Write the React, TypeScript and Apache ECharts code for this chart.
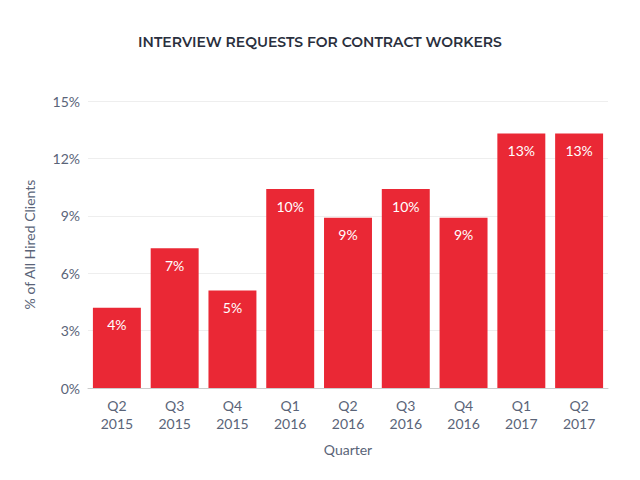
import React from 'react';
import * as echarts from 'echarts';

const quarters = ['Q2\n2015', 'Q3\n2015', 'Q4\n2015', 'Q1\n2016', 'Q2\n2016', 'Q3\n2016', 'Q4\n2016', 'Q1\n2017', 'Q2\n2017'];
const shares = [4.2, 7.3, 5.1, 10.4, 8.9, 10.4, 8.9, 13.3, 13.3];
const labels = ['4%', '7%', '5%', '10%', '9%', '10%', '9%', '13%', '13%'];

export default function App() {
  const chartRef = React.useRef<HTMLDivElement>(null);

  React.useEffect(() => {
    if (!chartRef.current) return;
    const chart = echarts.init(chartRef.current, null, { renderer: 'svg' });
    const grey = '#5a6478';
    chart.setOption({
      animation: false,
      title: {
        text: 'INTERVIEW REQUESTS FOR CONTRACT WORKERS',
        left: 'center',
        top: 22,
        textStyle: { fontFamily: 'Montserrat, Lato, sans-serif', fontSize: 14, fontWeight: 600, color: '#2a2f3d' }
      },
      grid: { left: 80, right: 24, top: 93, bottom: 84 },
      xAxis: {
        type: 'category',
        data: quarters,
        name: 'Quarter',
        nameLocation: 'middle',
        nameGap: 54,
        nameTextStyle: { color: grey, fontSize: 14, fontFamily: 'Lato' },
        axisTick: { show: false },
        axisLine: { lineStyle: { color: '#cccccc' } },
        axisLabel: { color: grey, fontSize: 14, fontFamily: 'Lato', lineHeight: 18, margin: 8 }
      },
      yAxis: {
        type: 'value',
        min: 0,
        max: 15,
        interval: 3,
        name: '% of All Hired Clients',
        nameLocation: 'middle',
        nameGap: 52,
        nameTextStyle: { color: grey, fontSize: 14, fontFamily: 'Lato' },
        axisLabel: { formatter: '{value}%', color: grey, fontSize: 14, fontFamily: 'Lato' },
        splitLine: { lineStyle: { color: '#eeeeee' } }
      },
      series: [{
        type: 'bar',
        data: shares,
        barCategoryGap: '17%',
        itemStyle: { color: '#ea2835' },
        label: {
          show: true,
          position: 'insideTop',
          distance: 10,
          color: '#ffffff',
          fontSize: 14,
          fontFamily: 'Lato',
          formatter: (p: any) => labels[p.dataIndex]
        }
      }]
    });
    return () => chart.dispose();
  }, []);

  return <div ref={chartRef} style={{ width: 624, height: 464 }} />;
}
